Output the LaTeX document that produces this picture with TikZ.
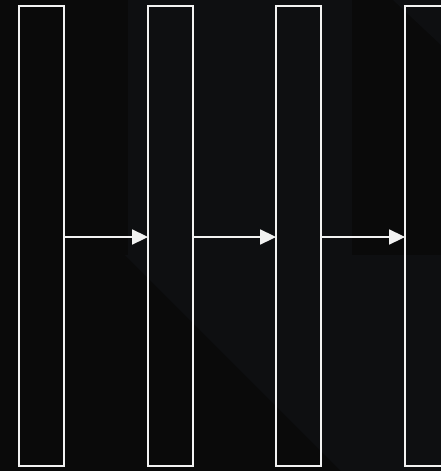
\documentclass[tikz,border=0pt]{standalone}
\usetikzlibrary{arrows.meta}
\definecolor{bgdark}{HTML}{0A0A0A}
\definecolor{bglight}{HTML}{0E0F11}
\definecolor{linecol}{HTML}{F2F2F2}
\tikzset{
  col/.style={draw=linecol, line width=1.8pt, minimum width=45pt, minimum height=460pt, inner sep=0pt},
  arr/.style={draw=linecol, line width=1.6pt, -{Triangle[length=16pt,width=15pt]}, shorten >=-1pt}
}
\begin{document}
\begin{tikzpicture}[x=1pt,y=-1pt]
\useasboundingbox (0,0) rectangle (441,471);
\clip (0,0) rectangle (441,471);
\fill[bgdark] (0,0) rectangle (441,471);
\fill[bglight] (128,0) -- (352,0) -- (352,255) -- (441,255) -- (441,471) -- (341,471) -- (125,255) -- (128,255) -- cycle;
\fill[bglight] (393,0) -- (441,0) -- (441,45) -- cycle;
\node[col] (b1) at (41.5,236) {};
\node[col] (b2) at (170.5,236) {};
\node[col] (b3) at (298.5,236) {};
\node[col] (b4) at (427.5,236) {};
\draw[arr] ([yshift=-1pt]b1.east) -- ([yshift=-1pt]b2.west);
\draw[arr] ([yshift=-1pt]b2.east) -- ([yshift=-1pt]b3.west);
\draw[arr] ([yshift=-1pt]b3.east) -- ([yshift=-1pt]b4.west);
\end{tikzpicture}
\end{document}
